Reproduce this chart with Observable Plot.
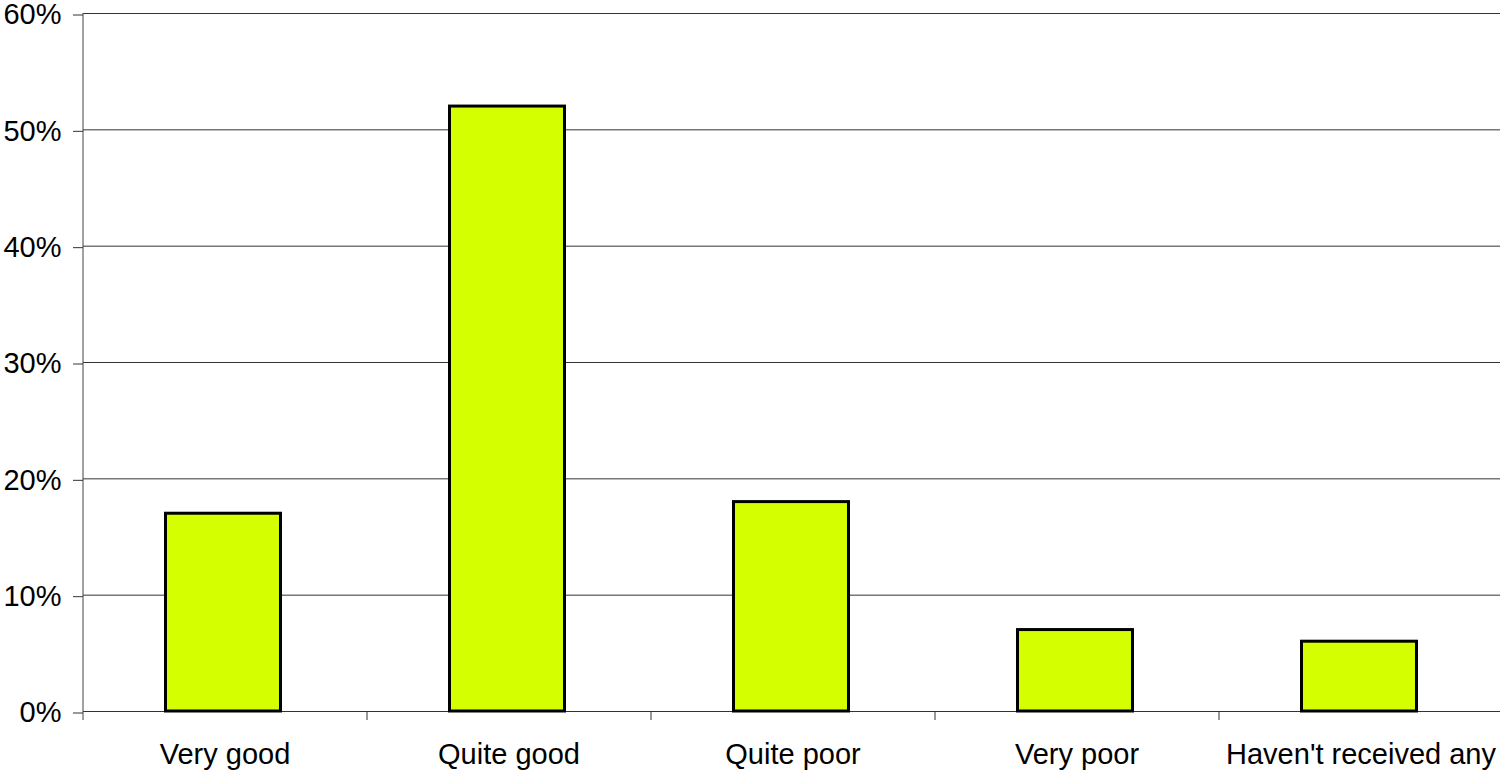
<!DOCTYPE html>
<html>
<head>
<meta charset="utf-8">
<script src="https://cdn.jsdelivr.net/npm/d3@7"></script>
<script src="https://cdn.jsdelivr.net/npm/@observablehq/plot@0.6"></script>
<style>
  html, body { margin: 0; padding: 0; background: #fff; }
  #chart { width: 1500px; height: 772px; overflow: hidden; }
</style>
</head>
<body>
<div id="chart"></div>
<script>
const categories = ["Very good", "Quite good", "Quite poor", "Very poor", "Haven't received any"];
const values = [17, 52, 18, 7, 6];
const yTicks = [0, 10, 20, 30, 40, 50, 60];

const data = categories.map((c, i) => ({category: c, value: values[i]}));

const W = 1500, H = 772, ML = 83, MR = -3, MT = 13, MB = 61;
const step = (W - ML - MR) / categories.length;

const chart = Plot.plot({
  width: W,
  height: H,
  marginLeft: ML,
  marginRight: MR,
  marginTop: MT,
  marginBottom: MB,
  style: {fontFamily: "'Liberation Sans', Arial, sans-serif", fontSize: "29px", color: "#000", background: "#fff", overflow: "visible"},
  x: {domain: categories, paddingInner: 0.595, paddingOuter: 0.2975, align: 0.5, label: null},
  y: {domain: [0, 60], label: null},
  marks: [
    Plot.gridY(yTicks, {stroke: "#333", strokeOpacity: 1, strokeWidth: 1}),
    // y axis line (left boundary), extends below axis like a tick
    Plot.ruleX([categories[0]], {dx: -step / 2, stroke: "#444", strokeWidth: 1, insetBottom: -9}),
    // category boundary ticks
    Plot.ruleX(categories.slice(1), {x: d => d, y1: 0, y2: 0, dx: -step / 2, stroke: "#333", strokeWidth: 1, insetBottom: -9}),
    Plot.barY(data, {x: "category", y: "value", fill: "#D4FF00", stroke: "#000", strokeWidth: 3, dx: -1.5}),
    Plot.axisY({ticks: yTicks, tickFormat: d => d + "%", tickSize: 10, tickPadding: 12, fontSize: 29, stroke: "#333", label: null, dy: 1.5}),
    Plot.axisX({tickSize: 0, tickPadding: 32, fontSize: 29, label: null})
  ]
});
document.getElementById("chart").appendChild(chart);
</script>
</body>
</html>
